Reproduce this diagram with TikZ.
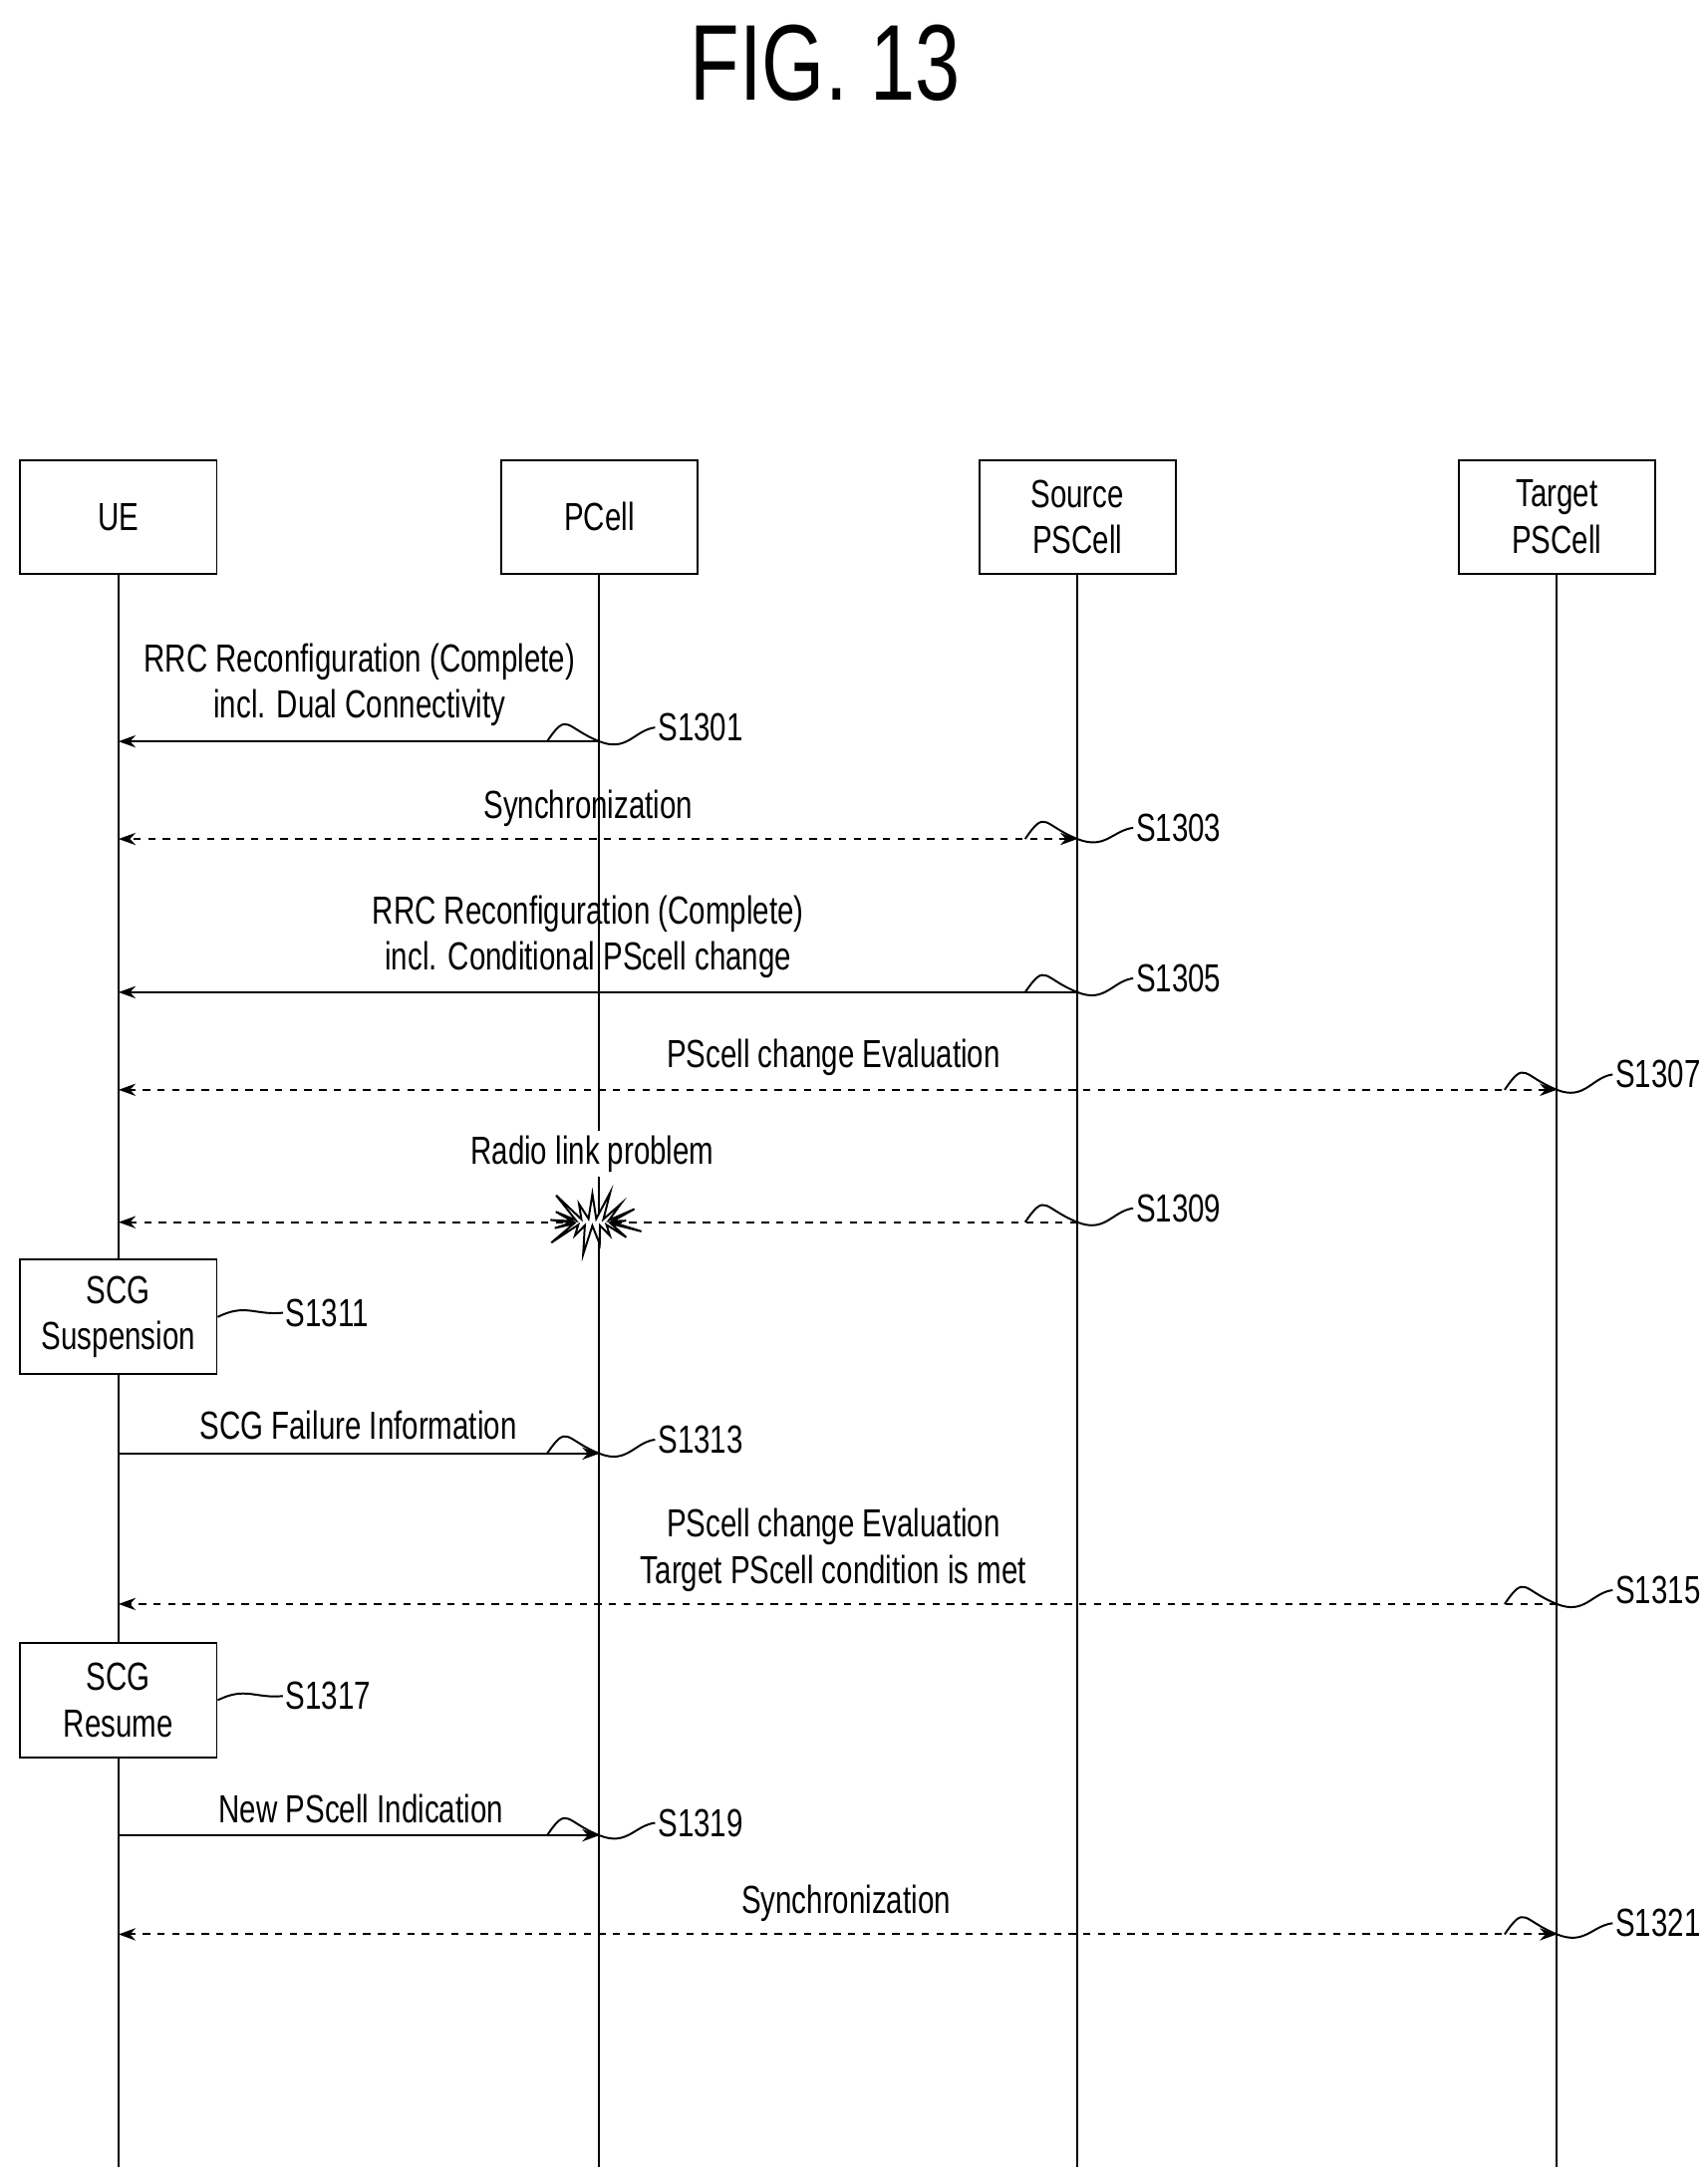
\documentclass[tikz,border=0pt]{standalone}
\usepackage{fontspec}
\setmainfont{Liberation Sans}[FakeStretch=0.75]
\usetikzlibrary{shapes.symbols,arrows.meta}
\begin{document}
\begin{tikzpicture}
[x=0.2mm,y=-0.2mm,font=\fontsize{16}{19}\selectfont,
entity/.style={draw,thick,minimum width=28.2mm,minimum height=16.4mm,align=center,inner sep=1pt},
life/.style={thick},
msg/.style={thick,-{Stealth[length=7pt,width=5pt]}},
sync/.style={msg,dashed,{Stealth[length=7pt,width=5pt]}-{Stealth[length=7pt,width=5pt]}},
lbl/.style={align=center,anchor=south,inner sep=2pt},
steplbl/.style={anchor=west,inner sep=1pt},
hook/.style={thick}]
\useasboundingbox (0,0) rectangle (1225,1560);
\node[font=\fontsize{44}{50}\selectfont] (title) at (592,45) {FIG. 13};
% entities
\node[entity] (ue) at (85,371) {UE};
\node[entity] (pcell) at (430,371) {PCell};
\node[entity] (src) at (773,371) {Source\\PSCell};
\node[entity] (tgt) at (1117,371) {Target\\PSCell};
\foreach \n in {ue,pcell,src,tgt}
  \coordinate (end-\n) at (\n.south |- 0,1555);
\draw[life] (pcell) -- (end-pcell);
\draw[life] (src) -- (end-src);
\draw[life] (tgt) -- (end-tgt);
% local boxes on UE
\node[entity] (susp) at (85,945) {SCG\\Suspension};
\node[entity] (resume) at (85,1220) {SCG\\Resume};
\draw[life] (ue) -- (susp);
\draw[life] (susp) -- (resume);
\draw[life] (resume) -- (end-ue);
% message rows
\foreach \m/\y in {m1/532,m3/602,m5/712,m7/782,m9/877,m13/1043,m15/1151,m19/1317,m21/1388}
  \coordinate (\m) at (0,\y);
\draw[msg] (pcell |- m1) -- (ue |- m1);
\node[lbl] (l1) at (258,525) {RRC Reconfiguration (Complete)\\incl. Dual Connectivity};
\draw[sync] (src |- m3) -- (ue |- m3);
\node[lbl] (l3) at (422,597) {Synchronization};
\draw[msg] (src |- m5) -- (ue |- m5);
\node[lbl] (l5) at (422,706) {RRC Reconfiguration (Complete)\\incl. Conditional PScell change};
\draw[sync] (tgt |- m7) -- (ue |- m7);
\node[lbl] (l7) at (598,776) {PScell change Evaluation};
\draw[msg,dashed] (src |- m9) -- (ue |- m9);
\node[lbl,fill=white] (l9) at (425,845) {Radio link problem};
\node[starburst,draw,thick,fill=white,minimum width=16mm,minimum height=11mm,inner sep=0pt] (burst) at (425,877) {};
\draw[msg] (ue |- m13) -- (pcell |- m13);
\node[lbl] (l13) at (257,1037) {SCG Failure Information};
\draw[msg,dashed] (tgt |- m15) -- (ue |- m15);
\node[lbl] (l15) at (598,1146) {PScell change Evaluation\\Target PScell condition is met};
\draw[msg] (ue |- m19) -- (pcell |- m19);
\node[lbl] (l19) at (259,1312) {New PScell Indication};
\draw[sync] (tgt |- m21) -- (ue |- m21);
\node[lbl] (l21) at (607,1383) {Synchronization};
% step labels
\node[steplbl] (s1) at (470,522) {S1301};
\node[steplbl] (s3) at (813,594) {S1303};
\node[steplbl] (s5) at (813,702) {S1305};
\node[steplbl] (s7) at (1157,771) {S1307};
\node[steplbl] (s9) at (813,867) {S1309};
\node[steplbl] (s11) at (203,942) {S1311};
\node[steplbl] (s13) at (470,1033) {S1313};
\node[steplbl] (s15) at (1157,1141) {S1315};
\node[steplbl] (s17) at (203,1217) {S1317};
\node[steplbl] (s19) at (470,1308) {S1319};
\node[steplbl] (s21) at (1157,1380) {S1321};
\foreach \e/\m/\s in {pcell/m1/s1,src/m3/s3,src/m5/s5,tgt/m7/s7,src/m9/s9,pcell/m13/s13,tgt/m15/s15,pcell/m19/s19,tgt/m21/s21}
  \draw[hook] ([xshift=-7.5mm]\e |- \m) .. controls +(15,-22) and +(-25,-10) .. (\e |- \m)
    .. controls +(20,8) and +(-15,2) .. (\s.west);
\draw[hook] (susp.east) .. controls +(20,-10) and +(-20,2) .. (s11.west);
\draw[hook] (resume.east) .. controls +(20,-10) and +(-20,2) .. (s17.west);
\end{tikzpicture}
\end{document}
